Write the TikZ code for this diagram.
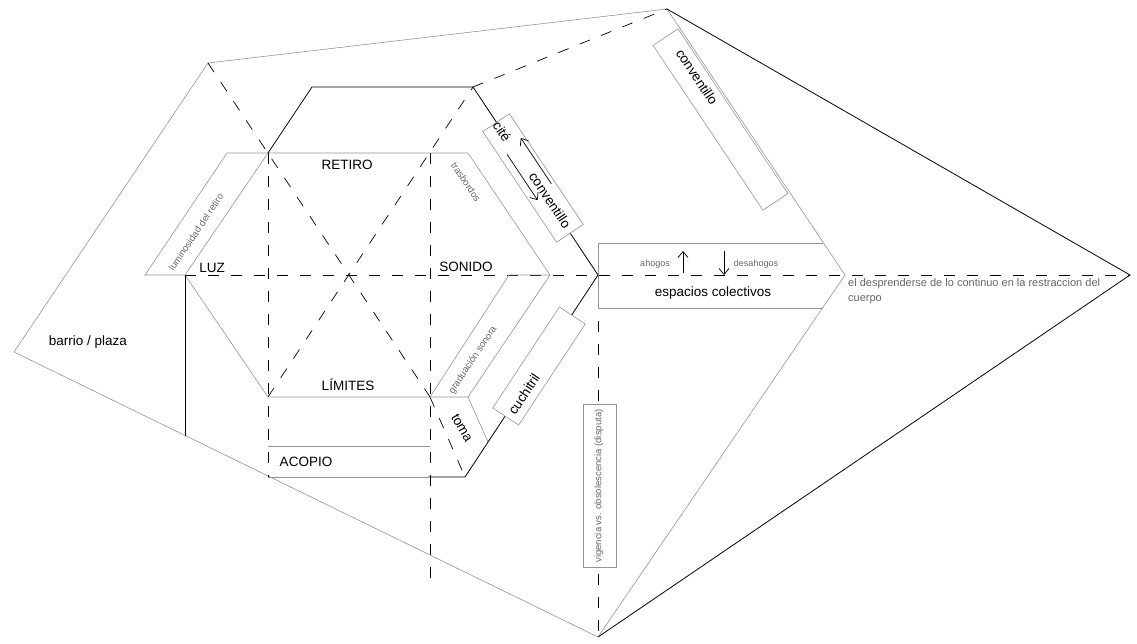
\documentclass[tikz,border=0pt]{standalone}
\usepackage{fontspec}
\setmainfont{Liberation Sans}
\usetikzlibrary{arrows.meta}
\begin{document}
\begin{tikzpicture}[x=1pt,y=-1pt,
  gl/.style={draw=black!42, line width=0.6pt},
  bl/.style={draw=black, line width=0.8pt},
  dl/.style={draw=black, line width=0.7pt, dash pattern=on 11pt off 12pt},
  big/.style={font=\fontsize{13.5}{15}\selectfont, inner sep=0pt},
  small/.style={font=\fontsize{9.5}{11}\selectfont, text=black!60, inner sep=0pt},
  gbox/.style={draw=black!42, line width=0.6pt, fill=white, inner sep=0pt},
  barb/.style={-{Straight Barb[length=6pt,width=10pt]}, line width=0.7pt}
]
\path[use as bounding box] (0,0) rectangle (1137,644);
% outer points
\coordinate (A) at (208,63);
\coordinate (T) at (667,9);
\coordinate (L) at (14,352);
\coordinate (B) at (598,637);
\coordinate (R) at (1130,275);
\coordinate (C) at (845,275);
% hexagon points
\coordinate (h1) at (268,153);
\coordinate (h2) at (430,153);
\coordinate (h2b) at (468,153);
\coordinate (luz) at (185,275);
\coordinate (son) at (509,275);
\coordinate (son2) at (550,275);
\coordinate (h3) at (268,397);
\coordinate (h4) at (430,397);
\coordinate (h4b) at (468,397);
\coordinate (band1) at (227,153);
\coordinate (band2) at (145,275);
\coordinate (k1) at (312,87);
\coordinate (k2) at (473,87);
\coordinate (k3) at (598,275);
\coordinate (k4) at (465,477);
\coordinate (k5) at (428,477);
\coordinate (t1) at (488,442);
\coordinate (a1) at (268,446);
\coordinate (a2) at (430,446);
\coordinate (a3) at (268,477);
\coordinate (lb) at (185,436);
\coordinate (v1) at (268,478);
\coordinate (v2) at (430,590);
\coordinate (e1) at (598,243);
\coordinate (e2) at (823,243);
\coordinate (e3) at (598,308);
\coordinate (e4) at (822,308);

% outer frame
\draw[gl] (A) -- (T);
\draw[gl] (A) -- (L) -- (B);
\draw[gl] (T) -- (C) -- (B);
\draw[bl] (T) -- (R) -- (B);

% dashed lines
\draw[dl] (luz) -- (R);
\draw[dl] (A) -- (h4);
\draw[dl] (h3) -- (k2);
\draw[dl] (k2) -- (T);
\draw[dl] (h1) -- (v1);
\draw[dl] (h2) -- (v2);
\draw[dl] (k3) -- (B);
\draw[dl] (h4) -- (k4);

% gray hexagon and bands
\draw[gl] (luz) -- (band2) -- (band1) -- (h2b) -- (son2) -- (h4b) -- (h4) -- (son) -- (son2);
\draw[gl] (luz) -- (h1);
\draw[gl] (luz) -- (h3) -- (h4);
\draw[gl] (h4b) -- (t1);
\draw[gl] (a1) -- (a2);
\draw[gl] (a3) -- (k5);
\draw[gl] (e2) -- (e1) -- (e3) -- (e4);

% black outline
\draw[bl] (h1) -- (k1) -- (k2) -- (k3) -- (k4) -- (k5);
\draw[bl] (luz) -- (lb);

% cite / conventillo box
\begin{scope}[shift={(533,178)}, rotate=-56.3, transform shape]
  \node[gbox, minimum width=133pt, minimum height=32pt] (citebox) at (0,0) {};
  \node[big] (cite) at (-56,0) {cité};
  \coordinate (ca1) at (15,-12);
  \coordinate (ca2) at (-40,-12);
  \coordinate (cb1) at (-34,8.5);
  \coordinate (cb2) at (21,8.5);
  \draw[barb] (ca1) -- (ca2);
  \draw[barb] (cb1) -- (cb2);
  \node[big] (conv1) at (28,-2) {conventillo};
\end{scope}

% cuchitril box
\node[gbox, rotate=56.6, minimum width=121pt, minimum height=31pt] (cuchbox) at (539,366) {};
\node[big, rotate=56.6] (cuch) at (524,394) {cuchitril};

% top conventillo box
\node[gbox, rotate=-56.3, minimum width=198pt, minimum height=30pt] (convbox) at (720.5,119.5) {};
\node[big, rotate=-56.3] (conv2) at (697,77) {conventillo};

% vigencia box
\node[gbox, minimum width=33pt, minimum height=163pt] (vigbox) at (599.5,485.5) {};
\node[small, rotate=90] (vig) at (599,486) {vigencia vs. obsolescencia (disputa)};

% espacios colectivos
\node[small, font=\fontsize{9}{10}\selectfont] (ahog) at (655,264) {ahogos};
\node[small, font=\fontsize{9}{10}\selectfont] (desahog) at (756,264) {desahogos};
\coordinate (up1) at (683,273);
\coordinate (up2) at (683,251);
\coordinate (dn1) at (724,251);
\coordinate (dn2) at (724,275);
\draw[barb] (up1) -- (up2);
\draw[barb] (dn1) -- (dn2);
\node[big] (esp) at (713,293) {espacios colectivos};

% labels
\node[big] (retiro) at (347,165) {RETIRO};
\node[big] (luzl) at (212,268) {LUZ};
\node[big] (sonido) at (466,267) {SONIDO};
\node[big] (limites) at (348,385) {LÍMITES};
\node[big] (acopio) at (306,462) {ACOPIO};
\node[big] (barrio) at (88,342) {barrio / plaza};
\node[big, rotate=-60] (toma) at (462,428) {toma};
\node[small, rotate=56.3] (lumin) at (196,232) {luminosidad del retiro};
\node[small, rotate=-56.3] (trasb) at (466,182) {trasbordos};
\node[small, rotate=56.3] (grad) at (473,360) {graduación sonora};
\node[small, font=\fontsize{11}{15}\selectfont, anchor=north west, align=left] (despr) at (848,278) {el desprenderse de lo continuo en la restraccion del\\cuerpo};
\end{tikzpicture}
\end{document}
